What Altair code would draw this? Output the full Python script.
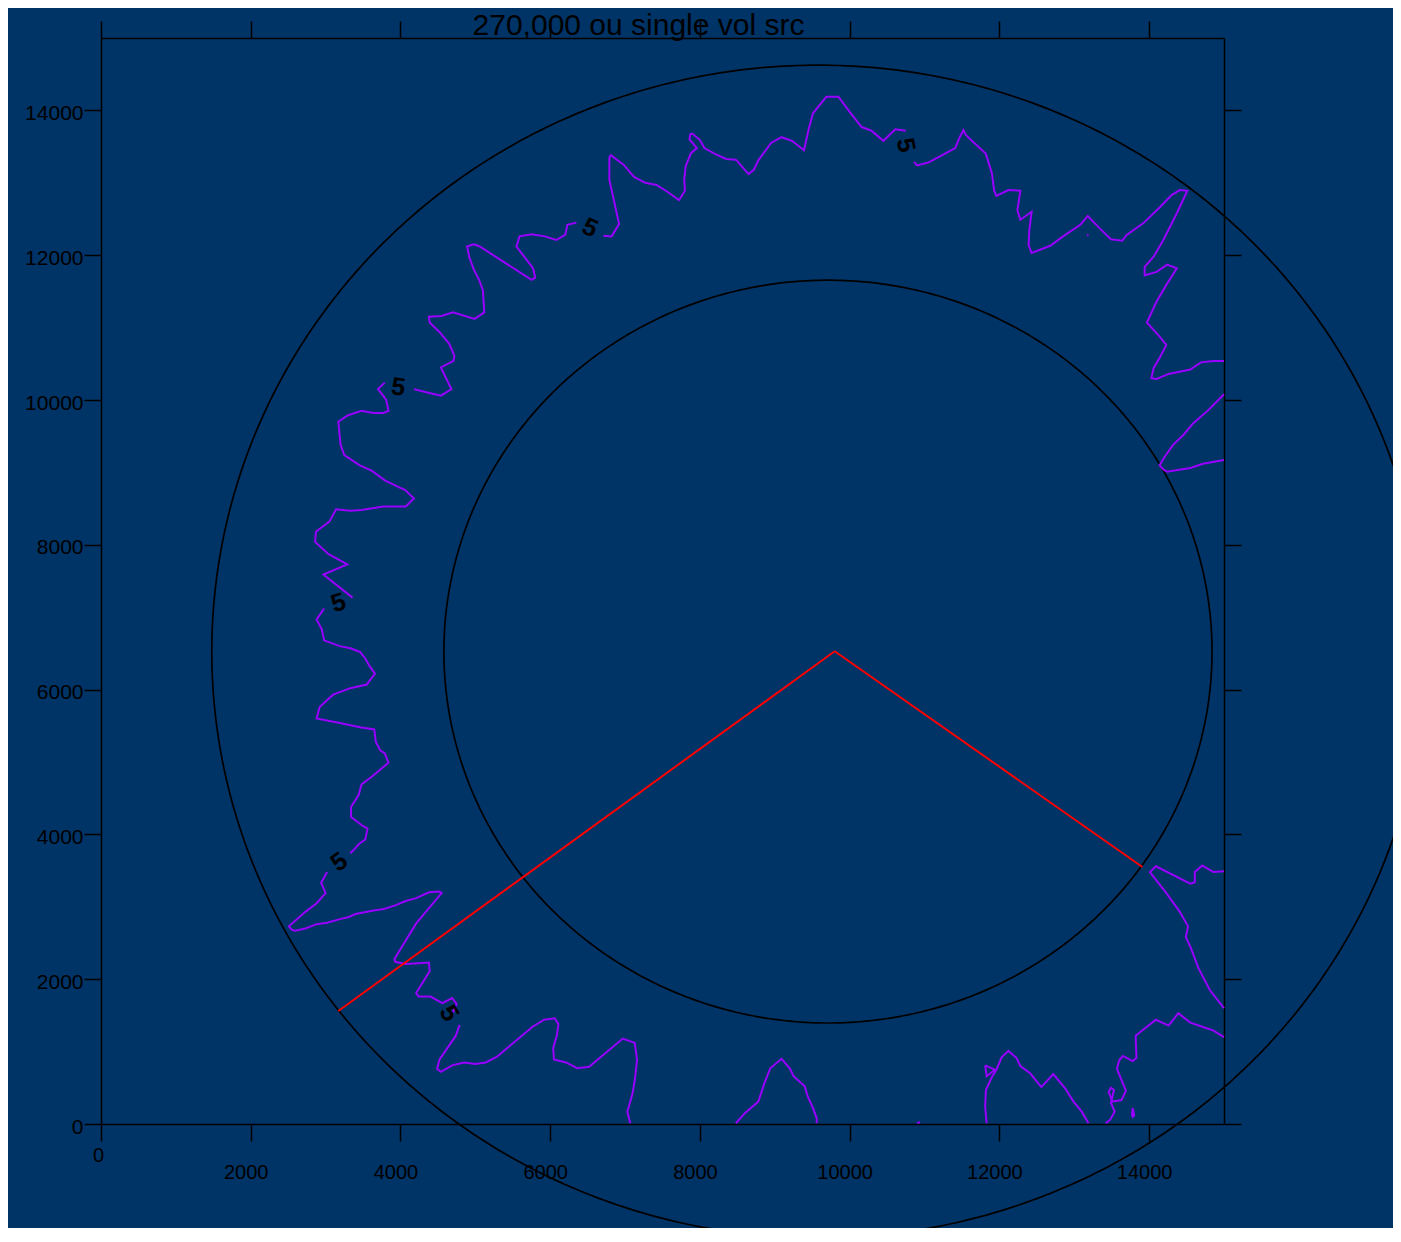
import altair as alt
import numpy as np
import pandas as pd

TITLE = "270,000 ou single vol src"
TICKS = [0, 2000, 4000, 6000, 8000, 10000, 12000, 14000]

# contour level "5" pieces (data units)
S1_X = [7070, 7030, 7100, 7130, 7160, 7130, 6970, 6520, 6360, 6210, 6050, 6040, 6090, 6110, 6060, 5920, 5760, 5450, 5290, 5140, 5000, 4850, 4690, 4540, 4490, 4520, 4740, 4790]
S1_Y = [10, 170, 420, 610, 880, 1120, 1180, 790, 770, 850, 890, 1050, 1230, 1380, 1460, 1440, 1340, 1070, 930, 850, 830, 850, 810, 720, 760, 890, 1220, 1370]

S2_X = [4700, 4750, 4690, 4560, 4400, 4240, 4210, 4390, 4380, 4240, 4070, 3930, 3920, 4210, 4550, 4520, 4380, 4210, 4070, 3930, 3780, 3640, 3400, 3310, 3190, 3020, 2880, 2730, 2590, 2550, 2510, 2730, 2880, 3000, 2940, 3020]
S2_Y = [1540, 1660, 1740, 1670, 1760, 1760, 1810, 2110, 2230, 2220, 2210, 2240, 2280, 2770, 3190, 3210, 3200, 3120, 3080, 3020, 2970, 2950, 2900, 2860, 2830, 2780, 2760, 2700, 2670, 2680, 2730, 2930, 3050, 3190, 3330, 3480]

S3_X = [3330, 3370, 3450, 3530, 3560, 3480, 3340, 3340, 3440, 3480, 3620, 3840, 3790, 3730, 3670, 3650, 3460, 3190, 2880, 2920, 3100, 3330, 3550, 3600, 3660, 3590, 3530, 3460, 3330, 3190, 2980, 2950, 2880, 2980]
S3_Y = [3740, 3780, 3870, 3930, 4080, 4130, 4240, 4380, 4540, 4690, 4800, 4990, 5120, 5160, 5280, 5450, 5480, 5540, 5600, 5760, 5930, 6020, 6070, 6140, 6220, 6320, 6430, 6520, 6570, 6600, 6680, 6830, 6970, 7120]

S4_X = [3360, 2970, 3290, 3040, 2860, 2870, 3050, 3140, 3330, 3480, 3770, 4070, 4180, 4060, 3990, 3790, 3620, 3450, 3250, 3200, 3170, 3300, 3480, 3640, 3770, 3840, 3810, 3760, 3700, 3790]
S4_Y = [7270, 7590, 7730, 7870, 8040, 8180, 8320, 8490, 8470, 8480, 8530, 8530, 8640, 8760, 8790, 8890, 9020, 9100, 9240, 9380, 9700, 9790, 9850, 9820, 9820, 9850, 10000, 10070, 10150, 10240]

S5_X = [4180, 4330, 4540, 4680, 4540, 4710, 4720, 4650, 4520, 4390, 4380, 4550, 4700, 4990, 5120, 5100, 5050, 4980, 4920, 4890, 4980, 5060, 5750, 5800, 5770, 5550, 5590, 5750, 5930, 6080, 6200, 6230, 6350]
S5_Y = [10150, 10110, 10060, 10150, 10450, 10540, 10610, 10780, 10940, 11070, 11150, 11160, 11210, 11120, 11210, 11520, 11660, 11800, 11970, 12120, 12150, 12120, 11660, 11690, 11820, 12120, 12260, 12290, 12260, 12210, 12280, 12420, 12450]

S6_X = [6710, 6820, 6920, 6820, 6790, 6790, 6810, 6980, 7120, 7270, 7420, 7560, 7720, 7800, 7790, 7810, 7880, 7960, 7860, 7870, 7900, 8000, 8060, 8200, 8350, 8480, 8650, 8720, 8780, 8950, 9090, 9230, 9390, 9450, 9510, 9690, 9850, 10000, 10160, 10290, 10450, 10610, 10750]
S6_Y = [12270, 12260, 12430, 12900, 13040, 13350, 13380, 13250, 13080, 13000, 12970, 12880, 12760, 12890, 13040, 13230, 13410, 13480, 13600, 13670, 13680, 13590, 13480, 13400, 13330, 13320, 13120, 13180, 13310, 13550, 13630, 13580, 13450, 13730, 13960, 14190, 14190, 13980, 13770, 13720, 13580, 13740, 13720]

S7_X = [10860, 10900, 11050, 11230, 11410, 11470, 11520, 11550, 11820, 11900, 11930, 11960, 12120, 12280, 12240, 12280, 12430, 12400, 12390, 12430, 12680, 12850, 13080, 13180, 13340, 13490, 13640, 13700, 13920, 14150, 14300, 14410, 14510, 14370, 14190, 14060, 13940, 13940, 14100, 14240, 14370, 14230, 14100, 13970, 14120, 14230, 14150, 14060, 14030, 14100, 14260, 14550, 14690, 14860, 15000]
S7_Y = [13290, 13240, 13280, 13380, 13480, 13630, 13730, 13660, 13400, 13130, 12890, 12820, 12900, 12890, 12620, 12490, 12600, 12350, 12140, 12030, 12130, 12260, 12420, 12540, 12370, 12220, 12200, 12280, 12440, 12670, 12830, 12900, 12890, 12580, 12210, 11980, 11840, 11720, 11770, 11870, 11820, 11590, 11360, 11070, 10900, 10760, 10600, 10440, 10300, 10290, 10360, 10420, 10520, 10540, 10540]

S8_X = [15000, 14790, 14590, 14460, 14320, 14210, 14140, 14190, 14240, 14550, 14720, 15000]
S8_Y = [10080, 9860, 9680, 9520, 9380, 9220, 9100, 9040, 9010, 9060, 9120, 9170]

R1_X = [15000, 14810, 14660, 14550, 14490, 14520, 14410, 14230, 14010, 14090, 14550, 14610, 14610, 14710, 14860, 15000]
R1_Y = [1600, 1850, 2150, 2450, 2580, 2730, 2930, 3190, 3480, 3560, 3320, 3340, 3480, 3570, 3480, 3490]

R2_X = [15000, 14860, 14720, 14550, 14390, 14260, 14090, 13940, 13820, 13830, 13780, 13650, 13600, 13570, 13630, 13690, 13630, 13510, 13460, 13490, 13530, 13490, 13540, 13480, 13420]
R2_Y = [1200, 1290, 1340, 1400, 1530, 1360, 1440, 1320, 1220, 910, 870, 940, 880, 760, 610, 460, 330, 310, 440, 500, 470, 290, 170, 60, 10]

R3_X = [11830, 11810, 11820, 11900, 11960, 12030, 12120, 12230, 12280, 12410, 12560, 12720, 12880, 12990, 13100, 13190]
R3_Y = [10, 240, 470, 650, 750, 920, 1010, 910, 800, 700, 510, 690, 490, 310, 170, 10]

LOOP1_X = [11810, 11940, 11830, 11810]
LOOP1_Y = [810, 750, 660, 810]

LOOP2_X = [13770, 13780, 13800, 13780, 13770]
LOOP2_Y = [120, 220, 120, 100, 120]

B2_X = [8480, 8600, 8780, 8860, 8940, 9090, 9200, 9250, 9400, 9440, 9510, 9560, 9560]
B2_Y = [10, 150, 310, 560, 770, 900, 770, 660, 520, 380, 220, 80, 10]

BLIP1_X = [10900, 10940]
BLIP1_Y = [15, 25]
BLIP2_X = [13170, 13190]
BLIP2_Y = [12270, 12280]

# contour labels
LBL_TEXT = ["5", "5", "5", "5", "5", "5"]
LBL_X = [6530, 3970, 10750, 3170, 3180, 4650]
LBL_Y = [12380, 10180, 13520, 7200, 3620, 1530]
LBL_ANGLE = [25, 8, 78, 342, 325, 60]

# circles (center, radius)
CIRCLE_CX = [9710, 9580]
CIRCLE_CY = [6525, 6525]
CIRCLE_R = [5130, 8100]

# red lines from the apex
APEX_X = 9800
APEX_Y = 6530
END_X = [3170, 13910]
END_Y = [1560, 3550]

segments = [
    ("s1", S1_X, S1_Y), ("s2", S2_X, S2_Y), ("s3", S3_X, S3_Y), ("s4", S4_X, S4_Y),
    ("s5", S5_X, S5_Y), ("s6", S6_X, S6_Y), ("s7", S7_X, S7_Y), ("s8", S8_X, S8_Y),
    ("r1", R1_X, R1_Y), ("r2", R2_X, R2_Y), ("r3", R3_X, R3_Y),
    ("l1", LOOP1_X, LOOP1_Y), ("l2", LOOP2_X, LOOP2_Y), ("b2", B2_X, B2_Y),
    ("k1", BLIP1_X, BLIP1_Y), ("k2", BLIP2_X, BLIP2_Y),
]
rows = []
for name, xs, ys in segments:
    assert len(xs) == len(ys), name
    for i, (x, y) in enumerate(zip(xs, ys)):
        rows.append({"seg": name, "i": i, "x": x, "y": y})
contour = pd.DataFrame(rows)

theta = np.linspace(0, 2 * np.pi, 541)
crow = []
for k, (cx, cy, r) in enumerate(zip(CIRCLE_CX, CIRCLE_CY, CIRCLE_R)):
    for i, t in enumerate(theta):
        crow.append({"c": k, "i": i, "x": cx + r * np.cos(t), "y": cy + r * np.sin(t)})
circles = pd.DataFrame(crow)

red = pd.DataFrame({"x": [APEX_X] * len(END_X), "y": [APEX_Y] * len(END_Y), "x2": END_X, "y2": END_Y})
lbl = pd.DataFrame({"t": LBL_TEXT, "x": LBL_X, "y": LBL_Y, "a": LBL_ANGLE})

xscale = alt.Scale(domain=[0, 15000], nice=False, zero=False)
yscale = alt.Scale(domain=[0, 15000], nice=False, zero=False)

x_bottom = alt.Axis(
    orient="bottom", values=TICKS, format="d", title=None, grid=False,
    labelFlush=False, labelOverlap=False, labelAlign="center", labelBaseline="top",
    labelPadding={"condition": {"test": "datum.value === 0", "value": 4}, "value": 21},
    labelOffset={"condition": {"test": "datum.value === 0", "value": -3}, "value": -5},
)
y_left = alt.Axis(
    orient="left", values=TICKS, format="d", title=None, grid=False,
    labelOverlap=False, labelFlush=False, labelAlign="right", labelBaseline="middle",
    labelPadding=1, labelOffset=3, labelFontSize=21,
)
x_top = alt.Axis(orient="top", values=TICKS, labels=False, title=None, grid=False)
y_right = alt.Axis(orient="right", values=TICKS, labels=False, title=None, grid=False)

circ_layer = alt.Chart(circles).mark_line(color="black", strokeWidth=1.7).encode(
    x=alt.X("x:Q", scale=xscale, axis=x_top),
    y=alt.Y("y:Q", scale=yscale, axis=y_right),
    detail="c:N",
    order="i:Q",
)
cont_layer = alt.Chart(contour).mark_line(color="#9900ff", strokeWidth=2).encode(
    x=alt.X("x:Q", scale=xscale, axis=x_bottom),
    y=alt.Y("y:Q", scale=yscale, axis=y_left),
    detail="seg:N",
    order="i:Q",
)
red_layer = alt.Chart(red).mark_rule(color="#ff0000", strokeWidth=2).encode(
    x=alt.X("x:Q", scale=xscale, axis=None),
    y=alt.Y("y:Q", scale=yscale, axis=None),
    x2="x2:Q",
    y2="y2:Q",
)
lbl_layer = alt.Chart(lbl).mark_text(
    font="Liberation Sans", fontWeight="bold", fontSize=25, color="black",
    align="center", baseline="middle",
).encode(
    x=alt.X("x:Q", scale=xscale, axis=None),
    y=alt.Y("y:Q", scale=yscale, axis=None),
    text="t:N",
    angle=alt.Angle("a:Q", scale=None),
)

chart = (
    alt.layer(circ_layer, cont_layer, red_layer, lbl_layer)
    .resolve_axis(x="independent", y="independent")
    .properties(
        width=1123,
        height=1086,
        title=alt.TitleParams(
            TITLE, fontSize=30, font="Liberation Sans", fontWeight="normal",
            color="black", anchor="middle", baseline="alphabetic", offset=0, dy=45, dx=-24,
        ),
        background="#003366",
        padding={"left": 93, "top": 30, "right": 169, "bottom": 104},
        autosize=alt.AutoSizeParams(type="none"),
    )
    .configure_axis(
        domainColor="black", domainWidth=1.5, tickColor="black", tickWidth=1.5,
        tickSize=17, labelColor="black", labelFont="Liberation Sans", labelFontSize=20,
    )
    .configure_view(strokeWidth=0)
)

chart.save("out.html", embed_options={"renderer": "svg", "actions": False})
